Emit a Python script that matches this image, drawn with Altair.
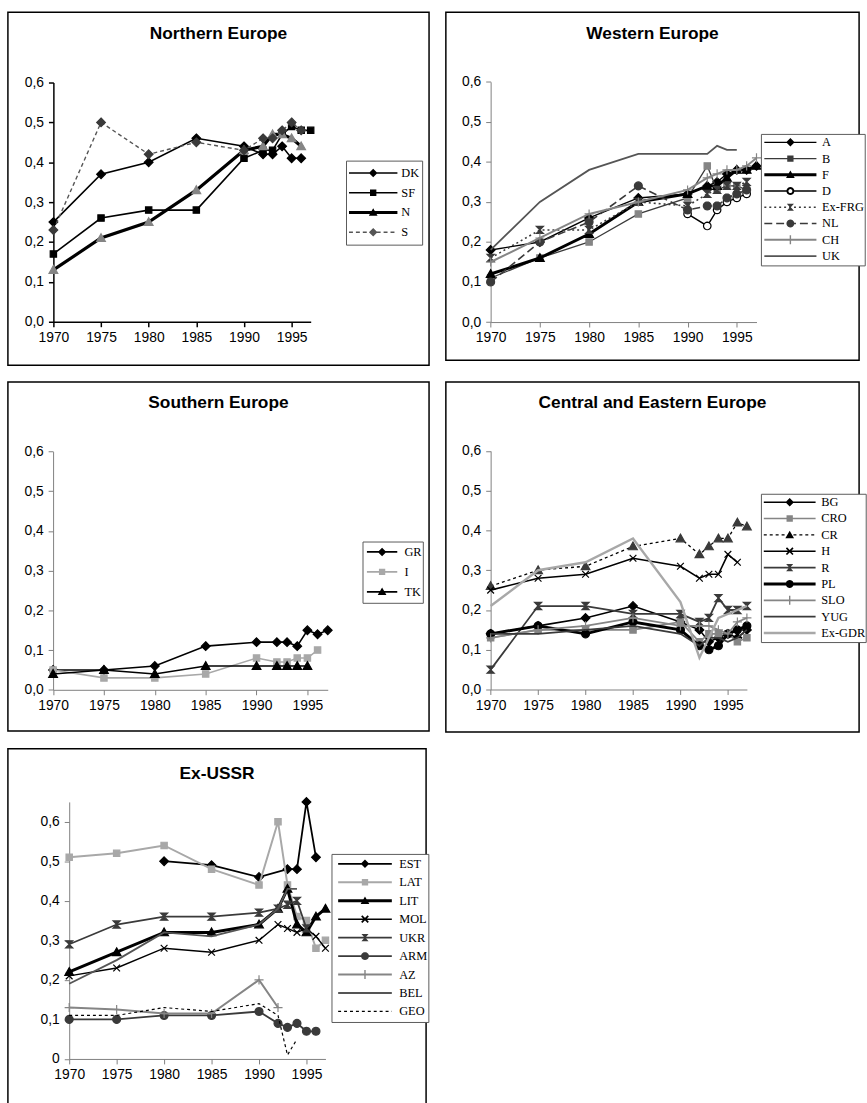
import math
import altair as alt
import pandas as pd

# ---------------------------------------------------------------- data
YEARS = [1970, 1975, 1980, 1985, 1990, 1992, 1993, 1994, 1995, 1996, 1997]
X_TICKS = [1970, 1975, 1980, 1985, 1990, 1995]
Y_TICKS = [0.0, 0.1, 0.2, 0.3, 0.4, 0.5, 0.6]

north_values = {
    "DK": [0.25, 0.37, 0.40, 0.46, 0.44, 0.42, 0.42, 0.44, 0.41, 0.41, None],
    "SF": [0.17, 0.26, 0.28, 0.28, 0.41, 0.43, 0.43, 0.47, 0.49, 0.48, 0.48],
    "N":  [0.13, 0.21, 0.25, 0.33, 0.43, 0.44, 0.47, 0.47, 0.46, 0.44, None],
    "S":  [0.23, 0.50, 0.42, 0.45, 0.43, 0.46, 0.46, 0.48, 0.50, 0.48, None],
}

west_values = {
    "A":      [0.18, 0.20, 0.26, 0.31, 0.32, 0.34, 0.35, 0.37, 0.38, 0.38, 0.39],
    "B":      [0.11, 0.16, 0.20, 0.27, 0.31, 0.39, 0.33, 0.34, 0.34, 0.33, None],
    "F":      [0.12, 0.16, 0.22, 0.30, 0.32, 0.34, 0.34, 0.36, 0.38, 0.38, 0.39],
    "D":      [None, None, None, None, 0.27, 0.24, 0.28, 0.30, 0.31, 0.32, None],
    "Ex-FRG": [0.16, 0.23, 0.23, 0.30, 0.29, 0.32, 0.33, 0.34, 0.34, 0.35, None],
    "NL":     [0.10, 0.20, 0.25, 0.34, 0.28, 0.29, 0.29, 0.31, 0.32, 0.33, None],
    "CH":     [0.15, 0.21, 0.27, 0.30, 0.33, 0.36, 0.37, 0.38, 0.38, 0.39, 0.41],
    "UK":     [0.18, 0.30, 0.38, 0.42, 0.42, 0.42, 0.44, 0.43, 0.43, None, None],
}

south_values = {
    "GR": [0.05, 0.05, 0.06, 0.11, 0.12, 0.12, 0.12, 0.11, 0.15, 0.14, 0.15],
    "I":  [0.05, 0.03, 0.03, 0.04, 0.08, 0.07, 0.07, 0.08, 0.08, 0.10, None],
    "TK": [0.04, 0.05, 0.04, 0.06, 0.06, 0.06, 0.06, 0.06, 0.06, None, None],
}

central_values = {
    "BG":     [0.14, 0.16, 0.18, 0.21, 0.17, 0.15, 0.12, 0.13, 0.14, 0.13, 0.15],
    "CRO":    [0.13, 0.15, 0.15, 0.15, 0.17, 0.12, 0.14, 0.14, 0.14, 0.12, 0.13],
    "CR":     [0.26, 0.30, 0.31, 0.36, 0.38, 0.34, 0.36, 0.38, 0.38, 0.42, 0.41],
    "H":      [0.25, 0.28, 0.29, 0.33, 0.31, 0.28, 0.29, 0.29, 0.34, 0.32, None],
    "R":      [0.05, 0.21, 0.21, 0.19, 0.19, 0.17, 0.18, 0.23, 0.20, 0.20, 0.21],
    "PL":     [0.14, 0.16, 0.14, 0.17, 0.15, 0.11, 0.10, 0.11, 0.14, 0.15, 0.16],
    "SLO":    [0.13, 0.15, 0.16, 0.18, 0.16, 0.16, 0.16, 0.15, 0.14, 0.17, 0.18],
    "YUG":    [0.14, 0.14, 0.15, 0.16, 0.14, 0.11, 0.13, 0.13, 0.12, 0.13, 0.15],
    "Ex-GDR": [0.21, 0.30, 0.32, 0.38, 0.22, 0.08, 0.13, 0.18, 0.19, 0.20, 0.21],
}

ussr_values = {
    "EST": [None, None, 0.50, 0.49, 0.46, None, 0.48, 0.48, 0.65, 0.51, None],
    "LAT": [0.51, 0.52, 0.54, 0.48, 0.44, 0.60, 0.44, 0.36, 0.35, 0.28, 0.30],
    "LIT": [0.22, 0.27, 0.32, 0.32, 0.34, 0.38, 0.43, 0.34, 0.32, 0.36, 0.38],
    "MOL": [0.21, 0.23, 0.28, 0.27, 0.30, 0.34, 0.33, 0.32, 0.33, 0.31, 0.28],
    "UKR": [0.29, 0.34, 0.36, 0.36, 0.37, 0.38, 0.39, 0.40, 0.33, None, None],
    "ARM": [0.10, 0.10, 0.11, 0.11, 0.12, 0.09, 0.08, 0.09, 0.07, 0.07, None],
    "AZ":  [0.13, 0.125, 0.115, 0.115, 0.20, 0.13, None, None, None, None, None],
    "BEL": [0.19, 0.25, 0.32, 0.31, 0.34, 0.38, 0.43, 0.43, None, None, None],
    "GEO": [0.11, 0.11, 0.13, 0.12, 0.14, 0.11, 0.01, 0.05, None, None, None],
}

# ---------------------------------------------------------------- styles
BLACK, DARK, MID, GREY, LIGHT = "#000000", "#3a3a3a", "#555555", "#858585", "#a8a8a8"
SANS, SERIF = "Liberation Sans", "Liberation Serif"


def style(color, width, marker=None, mfill=None, dash=None, mstroke=None):
    return {"color": color, "width": width, "marker": marker,
            "mfill": mfill or color, "mstroke": mstroke or mfill or color, "dash": dash}


north_styles = {
    "DK": style(BLACK, 1.6, "diamond"),
    "SF": style(BLACK, 1.6, "square"),
    "N":  style(BLACK, 3.2, "triangle", mfill=GREY),
    "S":  style(MID, 1.4, "diamond", mfill=DARK, dash=[4, 3]),
}
west_styles = {
    "A":      style(BLACK, 1.4, "diamond"),
    "B":      style(DARK, 1.3, "square", mfill=GREY),
    "F":      style(BLACK, 3.0, "triangle"),
    "D":      style(BLACK, 1.4, "ring", mfill="#ffffff", mstroke=BLACK),
    "Ex-FRG": style(DARK, 1.6, "hourglass", dash=[2, 3]),
    "NL":     style(DARK, 1.6, "circle", dash=[8, 4]),
    "CH":     style(GREY, 2.0, "plus"),
    "UK":     style(MID, 1.8),
}
south_styles = {
    "GR": style(BLACK, 1.6, "diamond"),
    "I":  style(LIGHT, 1.6, "square"),
    "TK": style(BLACK, 1.6, "triangle"),
}
central_styles = {
    "BG":     style(BLACK, 1.6, "diamond"),
    "CRO":    style(GREY, 1.6, "square"),
    "CR":     style(BLACK, 1.3, "triangle", mfill=DARK, dash=[3, 3]),
    "H":      style(BLACK, 1.6, "x"),
    "R":      style(DARK, 1.8, "hourglass"),
    "PL":     style(BLACK, 3.0, "circle"),
    "SLO":    style(GREY, 1.8, "plus"),
    "YUG":    style(DARK, 1.8),
    "Ex-GDR": style(LIGHT, 2.4),
}
ussr_styles = {
    "EST": style(BLACK, 1.8, "diamond"),
    "LAT": style(LIGHT, 2.0, "square"),
    "LIT": style(BLACK, 3.0, "triangle"),
    "MOL": style(BLACK, 1.4, "x"),
    "UKR": style(DARK, 1.8, "hourglass"),
    "ARM": style(DARK, 1.8, "circle"),
    "AZ":  style(GREY, 2.0, "plus"),
    "BEL": style(MID, 1.8),
    "GEO": style(BLACK, 1.2, dash=[3, 3]),
}


# ---------------------------------------------------------------- symbol paths
def _num(v):
    s = f"{v:.3f}".rstrip("0").rstrip(".")
    return "0" if s in ("", "-0") else s


def _ngon(r, k=20):
    return [(r * math.cos(2 * math.pi * i / k), r * math.sin(2 * math.pi * i / k)) for i in range(k)]


def _rect(x0, y0, x1, y1):
    return [(x0, y0), (x1, y0), (x1, y1), (x0, y1)]


def _bar(xa, ya, xb, yb, t):
    dx, dy = xb - xa, yb - ya
    length = math.hypot(dx, dy)
    nx, ny = -dy / length * t / 2, dx / length * t / 2
    return [(xa + nx, ya + ny), (xb + nx, yb + ny), (xb - nx, yb - ny), (xa - nx, ya - ny)]


def _poly(pts, unit, clockwise=True):
    # consistent winding so overlapping pieces merge under nonzero fill
    n = len(pts)
    area = sum(pts[i][0] * pts[(i + 1) % n][1] - pts[(i + 1) % n][0] * pts[i][1] for i in range(n))
    if (area < 0) == clockwise:
        pts = pts[::-1]
    return "M" + "L".join(f"{_num(px / unit)},{_num(py / unit)}" for px, py in pts) + "Z"


def _circle_path(r):
    return "M" + "L".join(f"{_num(x)},{_num(y)}" for x, y in _ngon(r)) + "Z"


# markers on the plot (unit = 4 px at size 64)
CHART_MARKERS = {
    "diamond": "M0,-1.1L1.1,0L0,1.1L-1.1,0Z",
    "square": "M-0.8,-0.8L0.8,-0.8L0.8,0.8L-0.8,0.8Z",
    "triangle": "M0,-1.1L1.1,0.85L-1.1,0.85Z",
    "circle": _circle_path(1.0),
    "ring": _circle_path(0.95),
    "x": "M-0.85,-0.85L0.85,0.85M-0.85,0.85L0.85,-0.85",
    "plus": "M-1.15,0L1.15,0M0,-1.15L0,1.15",
    "hourglass": "M-0.9,-0.9L0.9,-0.9L-0.9,0.9L0.9,0.9Z",
}


def _key_marker(kind):
    if kind == "diamond":
        return [[(0, -4.3), (4.3, 0), (0, 4.3), (-4.3, 0)]], []
    if kind == "square":
        return [_rect(-3.2, -3.2, 3.2, 3.2)], []
    if kind == "triangle":
        return [[(0, -4.3), (4.4, 3.3), (-4.4, 3.3)]], []
    if kind == "circle":
        return [_ngon(4.0)], []
    if kind == "ring":
        return [_ngon(4.0)], [_ngon(2.0)]
    if kind == "x":
        return [_bar(-3.3, -3.3, 3.3, 3.3, 1.7), _bar(-3.3, 3.3, 3.3, -3.3, 1.7)], []
    if kind == "plus":
        return [_rect(-0.7, -4.5, 0.7, 4.5), _rect(-4.5, -0.7, 4.5, 0.7)], []
    if kind == "hourglass":
        return [[(-3.6, -3.6), (3.6, -3.6), (0, 0.5)], [(0, -0.5), (3.6, 3.6), (-3.6, 3.6)]], []
    return [], []


def key_symbol(st, width):
    """Legend sample: a line stroke with the series marker in its middle."""
    unit = half = width / 2
    lw = max(st["width"], 1.3)
    spans = []
    if st["dash"]:
        on, off = st["dash"]
        pos = -half
        while pos < half:
            spans.append((pos, min(pos + on, half)))
            pos += on + off
    else:
        spans = [(-half, half)]
    if st["marker"] == "ring":
        cut = 2.6
        pieces = []
        for a, b in spans:
            if a < -cut:
                pieces.append((a, min(b, -cut)))
            if b > cut:
                pieces.append((max(a, cut), b))
        spans = pieces
    parts = [_poly(_rect(a, -lw / 2, b, lw / 2), unit) for a, b in spans if b > a]
    fills, holes = _key_marker(st["marker"])
    parts += [_poly(p, unit) for p in fills]
    parts += [_poly(p, unit, clockwise=False) for p in holes]
    return "".join(parts)


# ---------------------------------------------------------------- panels
def build_panel(title, values, styles, g, lg):
    names = list(values)
    rows = [{"series": n, "year": yr, "value": v}
            for n in names for yr, v in zip(YEARS, values[n]) if v is not None]
    base = alt.Chart(pd.DataFrame(rows))

    x_end = g["x0"] + (g["xmax"] - 1970) * g["ppy"]
    common = dict(title=None, grid=False, domainColor=g["axis"], tickColor=g["axis"],
                  domainWidth=g["aw"], tickWidth=g["aw"], tickSize=5,
                  labelFont=SANS, labelFontSize=14, labelColor="#000000",
                  labelFlush=False, labelOverlap=False)
    x_enc = alt.X("year:Q",
                  scale=alt.Scale(domain=[1970, g["xmax"]], range=[g["x0"], x_end], nice=False, zero=False),
                  axis=alt.Axis(values=X_TICKS, format="d", orient="bottom",
                                offset=-(g["h"] - g["y0"]), labelPadding=4, **common))
    y_enc = alt.Y("value:Q",
                  scale=alt.Scale(domain=[0, g["ymax"]], range=[g["y0"], g["ytop"]], nice=False),
                  axis=alt.Axis(values=Y_TICKS, orient="left", offset=-g["x0"],
                                labelExpr=g["ylabels"], labelPadding=5, **common))

    layers = []
    for n in names:
        st = styles[n]
        sub = base.transform_filter(alt.datum.series == n)
        line_kw = dict(color=st["color"], strokeWidth=st["width"])
        if st["dash"]:
            line_kw["strokeDash"] = st["dash"]
        layers.append(sub.mark_line(**line_kw).encode(x=x_enc, y=y_enc))
        if st["marker"]:
            layers.append(sub.mark_point(shape=CHART_MARKERS[st["marker"]], size=64, filled=True,
                                         fill=st["mfill"], stroke=st["mstroke"],
                                         strokeWidth=1.2, opacity=1).encode(x=x_enc, y=y_enc))

    legend = alt.Legend(title=None, orient="none", legendX=lg["x"], legendY=lg["y"],
                        padding=lg["pad"], clipHeight=lg["row"], rowPadding=lg["gap"],
                        symbolSize=lg["sw"] ** 2, symbolOffset=lg["so"], labelOffset=lg["lo"],
                        symbolStrokeWidth=0, strokeColor="#5a5a5a", fillColor="#ffffff",
                        labelFont=SERIF, labelFontSize=12.5, labelColor="#000000", labelLimit=200)
    key = base.transform_filter("false").mark_point(filled=True, opacity=1, strokeWidth=0).encode(
        shape=alt.Shape("series:N",
                        scale=alt.Scale(domain=names, range=[key_symbol(styles[n], lg["sw"]) for n in names]),
                        legend=legend),
        fill=alt.Fill("series:N",
                      scale=alt.Scale(domain=names, range=[styles[n]["color"] for n in names]),
                      legend=legend),
    )
    layers.append(key)

    return alt.layer(*layers).properties(
        width=g["w"], height=g["h"],
        title=alt.TitleParams(title, font=SANS, fontSize=17.5, fontWeight="bold", color="#000000",
                              anchor="middle", frame="group", offset=g["toff"]),
    )


DEC = "replace(format(datum.value, '.1f'), '.', ',')"
DEC0 = "datum.value == 0 ? '0' : " + DEC

north = build_panel(
    "Northern Europe", north_values, north_styles,
    dict(w=426, h=357, x0=46, ppy=9.64, xmax=1997, y0=313, ytop=71, ymax=0.6,
         axis=BLACK, aw=1.5, ylabels=DEC, toff=-30),
    dict(x=342, y=150, pad=2.5, row=20, gap=0, sw=49, so=0.5, lo=4))

west = build_panel(
    "Western Europe", west_values, west_styles,
    dict(w=418, h=352, x0=45.3, ppy=9.96, xmax=1997, y0=313.3, ytop=70.3, ymax=0.6,
         axis="#808080", aw=1, ylabels=DEC, toff=-30),
    dict(x=318.7, y=123, pad=0.5, row=16, gap=0.43, sw=52.7, so=2.8, lo=5.5))

south = build_panel(
    "Southern Europe", south_values, south_styles,
    dict(w=426, h=353, x0=45.7, ppy=10.29, xmax=1997, y0=311.3, ytop=70.3, ymax=0.6,
         axis="#808080", aw=1, ylabels=DEC, toff=-30),
    dict(x=358.7, y=161.3, pad=0.5, row=20, gap=0.2, sw=30.7, so=3.8, lo=7.1))

central = build_panel(
    "Central and Eastern Europe", central_values, central_styles,
    dict(w=418, h=354, x0=45.3, ppy=9.6, xmax=1997, y0=311, ytop=69.7, ymax=0.6,
         axis="#808080", aw=1, ylabels=DEC, toff=-30),
    dict(x=318.7, y=113, pad=0.5, row=16, gap=0.54, sw=52.4, so=2.1, lo=5.4))

ussr = build_panel(
    "Ex-USSR", ussr_values, ussr_styles,
    dict(w=423, h=370, x0=62, ppy=9.6, xmax=1997, y0=313.7, ytop=53.7, ymax=0.65,
         axis="#808080", aw=1, ylabels=DEC0, toff=-34),
    dict(x=327.3, y=106.3, pad=1, row=18, gap=0.67, sw=54.3, so=5.4, lo=7.1))

INDEP = dict(shape="independent", fill="independent")

row1 = alt.hconcat(north, west, spacing=15).resolve_scale(**INDEP)
row2 = alt.hconcat(south, central, spacing=15).resolve_scale(**INDEP)

chart = (
    alt.vconcat(row1, row2, ussr, spacing=15)
    .resolve_scale(**INDEP)
    .properties(padding={"left": 7, "top": 5, "right": 0, "bottom": 0}, background="#ffffff")
    .configure_view(stroke="#000000", strokeWidth=1.5, fill="#ffffff")
)

chart.save("out.html", embed_options={"renderer": "svg", "actions": False})
